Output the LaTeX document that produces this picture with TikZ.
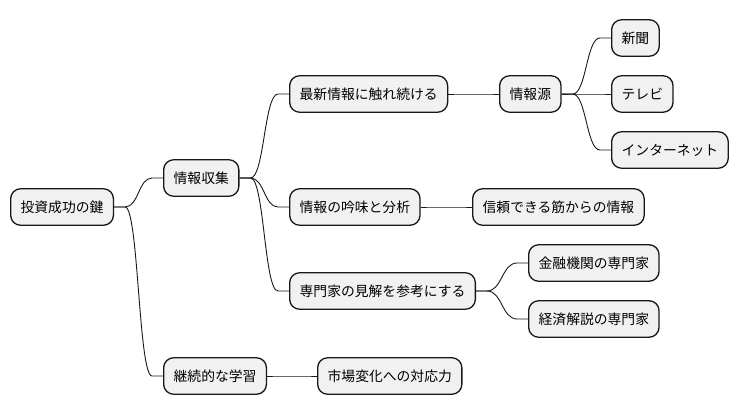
\documentclass[tikz,border=0pt]{standalone}
\usepackage{fontspec}
\setmainfont{Noto Sans CJK JP}
\usetikzlibrary{calc}
\definecolor{boxfill}{HTML}{F1F1F1}
\definecolor{boxline}{HTML}{181818}
\tikzset{
  mmbox/.style={draw=boxline, fill=boxfill, line width=1.3pt, rounded corners=10pt,
    anchor=west, minimum height=36.5pt, inner xsep=10pt, inner ysep=0pt,
    font=\fontsize{13.8pt}{16pt}\selectfont, text=black},
  mmline/.style={draw=boxline, line width=0.9pt}
}
\newcommand{\mmconn}[2]{%
  \draw[mmline] let \p1=($(#1.east)+(11,0)$), \p2=($(#2.west)+(-11,0)$) in
    (#1.east) -- (\p1) .. controls ({(\x1+\x2)/2},\y1) and ({(\x1+\x2)/2},\y2) .. (\p2) -- (#2.west);}
\begin{document}
\begin{tikzpicture}[x=1pt,y=-1pt]
\useasboundingbox (0,0) rectangle (740,415);
\node[mmbox] (root) at (10,207) {投資成功の鍵};
\node[mmbox] (a) at (163,178) {情報収集};
\node[mmbox] (a1) at (289,94) {最新情報に触れ続ける};
\node[mmbox] (a1s) at (499,94) {情報源};
\node[mmbox] (n1) at (611,38) {新聞};
\node[mmbox] (n2) at (611,94) {テレビ};
\node[mmbox] (n3) at (611,150) {インターネット};
\node[mmbox] (a2) at (289,207) {情報の吟味と分析};
\node[mmbox] (a2s) at (472,207) {信頼できる筋からの情報};
\node[mmbox] (a3) at (289,291) {専門家の見解を参考にする};
\node[mmbox] (e1) at (528,263) {金融機関の専門家};
\node[mmbox] (e2) at (528,319) {経済解説の専門家};
\node[mmbox] (b) at (163,376) {継続的な学習};
\node[mmbox] (b1) at (317,376) {市場変化への対応力};
\mmconn{root}{a}
\mmconn{root}{b}
\mmconn{a}{a1}
\mmconn{a}{a2}
\mmconn{a}{a3}
\mmconn{a1}{a1s}
\mmconn{a1s}{n1}
\mmconn{a1s}{n2}
\mmconn{a1s}{n3}
\mmconn{a2}{a2s}
\mmconn{a3}{e1}
\mmconn{a3}{e2}
\mmconn{b}{b1}
\end{tikzpicture}
\end{document}
